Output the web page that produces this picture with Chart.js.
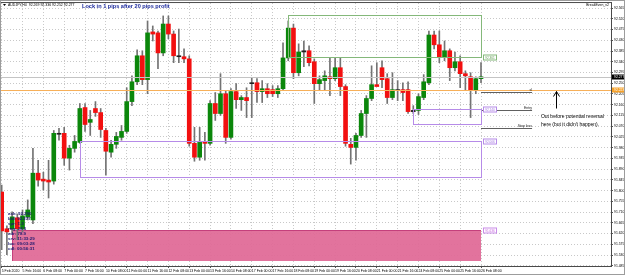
<!DOCTYPE html>
<html>
<head>
<meta charset="utf-8">
<script src="https://cdn.jsdelivr.net/npm/chart.js@4.4.1/dist/chart.umd.min.js"></script>
<style>
html,body{margin:0;padding:0;background:#fff;overflow:hidden}
#wrap{position:relative;width:625px;height:275px}
canvas{display:block}
</style>
</head>
<body>
<div id="wrap"><canvas id="c" width="625" height="275"></canvas></div>
<script>
// ---------- DATA (AUDJPY, H4) ----------
const opens = [91.794,91.640,91.640,91.686,91.640,91.690,91.677,91.873,91.848,91.844,
91.840,92.040,92.040,91.936,91.977,92.002,92.148,92.086,92.144,92.127,
92.052,91.961,91.994,92.023,92.048,92.173,92.256,92.365,92.265,92.465,
92.461,92.377,92.498,92.456,92.365,92.361,92.352,91.998,91.940,92.006,
91.998,92.165,92.123,92.206,92.023,92.215,92.181,92.190,92.252,92.252,
92.215,92.227,92.223,92.206,92.227,92.356,92.481,92.294,92.386,92.386,
92.340,92.248,92.261,92.277,92.269,92.315,92.236,91.994,91.981,92.031,
92.123,92.186,92.244,92.315,92.269,92.190,92.223,92.223,92.223,92.136,
92.136,92.190,92.252,92.452,92.411,92.361,92.386,92.315,92.340,92.290,
92.277,92.219,92.269];
const highs = [91.823,91.652,91.711,91.702,91.719,91.761,91.977,91.927,91.877,91.927,
92.052,92.061,92.065,91.990,92.031,92.165,92.165,92.136,92.173,92.144,
92.061,92.011,92.044,92.073,92.231,92.281,92.390,92.386,92.511,92.490,
92.469,92.532,92.532,92.469,92.477,92.394,92.365,92.065,92.065,92.044,
92.177,92.211,92.290,92.219,92.227,92.248,92.198,92.231,92.273,92.269,
92.261,92.248,92.240,92.240,92.419,92.511,92.498,92.415,92.427,92.407,
92.352,92.281,92.302,92.356,92.356,92.356,92.244,92.019,92.040,92.136,
92.198,92.323,92.336,92.344,92.290,92.294,92.261,92.252,92.256,92.156,
92.206,92.286,92.469,92.469,92.469,92.427,92.394,92.381,92.365,92.302,
92.294,92.277,92.336];
const lows = [91.552,91.531,91.623,91.594,91.627,91.677,91.661,91.819,91.802,91.769,
91.827,92.011,91.906,91.886,91.961,91.998,92.048,92.031,92.111,92.023,
91.865,91.940,91.977,92.011,92.040,92.156,92.244,92.244,92.206,92.427,
92.311,92.365,92.436,92.336,92.336,92.336,91.986,91.923,91.927,91.927,
91.990,92.094,92.115,91.998,92.015,92.144,92.136,92.106,92.106,92.169,
92.169,92.190,92.194,92.190,92.219,92.344,92.269,92.281,92.319,92.323,
92.165,92.219,92.219,92.198,92.261,92.198,91.986,91.911,91.927,92.023,
92.023,92.177,92.240,92.231,92.165,92.181,92.177,92.177,92.123,92.123,
92.119,92.181,92.244,92.394,92.336,92.344,92.261,92.302,92.231,92.223,
92.106,92.206,92.252];
const closes = [91.631,91.627,91.690,91.640,91.694,91.719,91.873,91.844,91.840,91.836,
92.040,92.036,91.936,91.977,92.006,92.144,92.077,92.098,92.127,92.056,
91.965,91.994,92.027,92.048,92.173,92.256,92.365,92.265,92.461,92.456,
92.377,92.498,92.456,92.365,92.361,92.352,91.998,91.940,92.002,91.998,
92.165,92.123,92.206,92.023,92.215,92.181,92.190,92.177,92.248,92.215,
92.227,92.206,92.206,92.227,92.356,92.481,92.294,92.381,92.381,92.336,
92.248,92.265,92.281,92.269,92.315,92.236,91.998,91.981,92.031,92.123,
92.186,92.244,92.236,92.265,92.190,92.223,92.219,92.211,92.131,92.131,
92.194,92.256,92.452,92.411,92.361,92.386,92.315,92.340,92.290,92.281,
92.219,92.269,92.277];

// time axis labels, one every 4 bars
const timeLabels = ["5 Feb 2020","5 Feb 16:00","6 Feb 08:00","7 Feb 00:00","7 Feb 16:00","10 Feb 08:00",
"11 Feb 00:00","11 Feb 16:00","12 Feb 08:00","13 Feb 00:00","13 Feb 16:00","14 Feb 08:00",
"17 Feb 00:00","17 Feb 16:00","18 Feb 08:00","19 Feb 00:00","19 Feb 16:00","20 Feb 08:00",
"21 Feb 00:00","21 Feb 16:00","24 Feb 08:00","25 Feb 00:00","25 Feb 16:00","26 Feb 08:00"];
const labelBars = [0,4,8,12,16,20,24,28,32,36,40,44,48,52,56,60,64,68,72,76,80,84,88,92];

// price axis tick labels
const priceTicks = [92.565,92.520,92.475,92.430,92.385,92.340,92.295,92.250,92.205,92.160,
92.115,92.070,92.025,91.980,91.935,91.890,91.845,91.800,91.755,91.710,91.665,91.620,91.575,91.530,91.485];

// outlined zones (bar index from/to, price high/low) and their price tags
const zoneFrom = [55, 79, 15];
const zoneTo = [92, 92, 92];
const zoneHigh = [92.536, 92.140, 92.006];
const zoneLow = [92.361, 92.077, 91.856];
const zoneTag = [92.361, 92.140, 92.006];

// filled zone
const fillFrom = [2];
const fillTo = [92];
const fillHigh = [91.636];
const fillLow = [91.507];

// levels
const bidPrice = [92.277];
const breakEvenLevel = [92.223];
const slLevel = [92.215];
const entryLevel = [92.136];
const stopLossLevel = [92.061];

const statLines = ["ask: 92.290","bid: 92.277","spr: 1.3","rng: 28.5","adr: 78.9","srv: 11:33:29","loc: 09:03:28","cdl: 00:56:31"];

// ---------- BUILD ----------
const idx = opens.map((_, i) => i);
const wickData = idx.map(i => ({x: i, y: [lows[i], highs[i]]}));
const bodyData = idx.map(i => ({x: i, y: [opens[i], closes[i]]}));
const bodyColors = idx.map(i => Math.abs(closes[i] - opens[i]) < 0.0055 ? '#222222' : (closes[i] > opens[i] ? '#0b870b' : '#f21010'));

const FONT = '"Liberation Sans", Arial, sans-serif';

const annot = {
  id: 'annot',
  beforeDatasetsDraw(chart) {
    const {ctx, scales: {x, y}} = chart;
    ctx.save();
    for (let k = 0; k < fillFrom.length; k++) {
      const X1 = Math.round(x.getPixelForValue(fillFrom[k])), X2 = Math.round(x.getPixelForValue(fillTo[k]));
      const Y1 = Math.round(y.getPixelForValue(fillHigh[k])), Y2 = Math.round(y.getPixelForValue(fillLow[k]));
      ctx.fillStyle = 'rgba(224,108,152,0.95)';
      ctx.fillRect(X1, Y1, X2 - X1, Y2 - Y1);
      ctx.strokeStyle = '#c4407c';
      ctx.lineWidth = 1;
      ctx.beginPath();
      ctx.moveTo(X1 + 0.5, Y2); ctx.lineTo(X1 + 0.5, Y1 + 0.5); ctx.lineTo(X2, Y1 + 0.5);
      ctx.stroke();
    }
    ctx.restore();
  },
  afterDatasetsDraw(chart) {
    const {ctx, chartArea: a, scales: {x, y}} = chart;
    const px = v => x.getPixelForValue(v);
    const py = v => Math.round(y.getPixelForValue(v)) + 0.5;
    ctx.save();
    ctx.lineWidth = 1;

    // bid line & break-even line
    ctx.strokeStyle = '#c4c4c4';
    ctx.beginPath(); ctx.moveTo(a.left, py(bidPrice[0])); ctx.lineTo(a.right, py(bidPrice[0])); ctx.stroke();
    ctx.strokeStyle = '#f7b05a';
    ctx.beginPath(); ctx.moveTo(a.left, py(breakEvenLevel[0])); ctx.lineTo(a.right, py(breakEvenLevel[0])); ctx.stroke();

    // small trade lines to the right of the last bar
    const lx1 = px(92), lx2 = px(101.8);
    ctx.strokeStyle = '#606060';
    [slLevel[0], entryLevel[0], stopLossLevel[0]].forEach(v => {
      ctx.beginPath(); ctx.moveTo(lx1, py(v)); ctx.lineTo(lx2, py(v)); ctx.stroke();
    });
    ctx.fillStyle = '#202020';
    ctx.font = '3.5px ' + FONT;
    ctx.textAlign = 'right'; ctx.textBaseline = 'bottom';
    ctx.fillText('Entry', lx2, py(entryLevel[0]) - 0.5);
    ctx.fillText('Stop loss', lx2, py(stopLossLevel[0]) - 0.5);
    ctx.fillText('sl', lx2, py(slLevel[0]) - 0.5);

    // zone outlines
    const zoneCols = ['#84b87a', '#b68be8', '#b68be8'];
    for (let k = 0; k < zoneFrom.length; k++) {
      const X1 = Math.round(px(zoneFrom[k])) + 0.5, X2 = Math.round(px(zoneTo[k])) + 0.5;
      const Y1 = py(zoneHigh[k]), Y2 = py(zoneLow[k]);
      ctx.strokeStyle = zoneCols[k];
      ctx.strokeRect(X1, Y1, X2 - X1, Y2 - Y1);
    }
    // price tags
    const tagCols = ['#5e9a52', '#a073e0', '#a073e0', '#c867e0'];
    const tagVals = zoneTag.concat(fillHigh);
    const tagBorder = ['#84b87a', '#b68be8', '#b68be8', '#c98be8'];
    ctx.font = '3.2px ' + FONT;
    ctx.textAlign = 'center'; ctx.textBaseline = 'middle';
    tagVals.forEach((v, k) => {
      const bx = Math.round(px(92)) + 2.5, by = py(v);
      ctx.fillStyle = '#ffffff';
      ctx.fillRect(bx, by - 2.5, 13, 5);
      ctx.strokeStyle = tagBorder[k];
      ctx.strokeRect(bx, by - 2.5, 13, 5);
      ctx.fillStyle = tagCols[k];
      ctx.fillText(v.toFixed(3), bx + 6.5, by + 0.2);
    });

    // arrow + note
    const ax = Math.round(px(106.4)) + 0.5;
    const ay1 = py(92.148), ay2 = py(92.219);
    ctx.strokeStyle = '#000'; ctx.lineWidth = 1;
    ctx.beginPath(); ctx.moveTo(ax, ay1); ctx.lineTo(ax, ay2); ctx.stroke();
    ctx.beginPath(); ctx.moveTo(ax - 3, ay2 + 5); ctx.lineTo(ax, ay2); ctx.lineTo(ax + 3, ay2 + 5); ctx.stroke();
    ctx.fillStyle = '#000';
    ctx.font = '5px ' + FONT;
    ctx.textAlign = 'left'; ctx.textBaseline = 'middle';
    ctx.fillText('Out before potential reversal', px(103.5), y.getPixelForValue(92.111));
    ctx.fillText("here (but it didn't happen).", px(103.5), y.getPixelForValue(92.078));

    // chart frame
    ctx.strokeStyle = '#4a4a4a';
    ctx.strokeRect(a.left - 0.5, a.top - 0.5, a.right - a.left + 1, a.bottom - a.top + 1);

    // right-axis price boxes
    const rb = a.right + 1;
    let by = Math.round(y.getPixelForValue(bidPrice[0]));
    ctx.fillStyle = '#000';
    ctx.fillRect(rb, by - 2.5, 13, 5);
    ctx.fillStyle = '#fff';
    ctx.font = '3.4px ' + FONT;
    ctx.textAlign = 'left'; ctx.textBaseline = 'middle';
    ctx.fillText(bidPrice[0].toFixed(3), rb + 2, by);
    by = Math.round(y.getPixelForValue(breakEvenLevel[0]));
    ctx.fillStyle = '#f5a12a';
    ctx.fillRect(rb, by - 2.5, 13, 5);
    ctx.fillStyle = '#fff';
    ctx.fillText(breakEvenLevel[0].toFixed(3), rb + 2, by);

    // header texts
    ctx.fillStyle = '#000';
    ctx.font = '3.5px ' + FONT;
    ctx.textAlign = 'left'; ctx.textBaseline = 'middle';
    ctx.fillText('AUDJPY,H4  92.269 92.336 92.252 92.277', 8, 5);
    ctx.textAlign = 'right';
    ctx.fillText('BreakEven_v2', a.right - 2, 5);
    ctx.beginPath(); ctx.moveTo(3, 4); ctx.lineTo(6, 4); ctx.lineTo(4.5, 6); ctx.closePath(); ctx.fill();

    ctx.fillStyle = '#1c2a9c';
    ctx.font = 'bold 5.6px ' + FONT;
    ctx.textAlign = 'left';
    ctx.fillText('Lock in 1 pips after 20 pips profit', 82, 6);

    // stats block
    ctx.fillStyle = '#1d1a6e';
    ctx.font = 'bold 4.4px ' + FONT;
    statLines.forEach((t, k) => ctx.fillText(t, 8, 213.5 + k * 5.1));

    // outer frame
    ctx.strokeStyle = '#9c9c9c';
    ctx.strokeRect(0.5, 0.5, 624, 274);
    ctx.restore();
  }
};

new Chart(document.getElementById('c'), {
  type: 'bar',
  data: {
    datasets: [
      {data: wickData, backgroundColor: '#737373', barThickness: 1, grouped: false, minBarLength: 1, order: 2},
      {data: bodyData, backgroundColor: bodyColors, barThickness: 4, grouped: false, minBarLength: 1, order: 1}
    ]
  },
  options: {
    responsive: false,
    animation: false,
    devicePixelRatio: 1,
    layout: {padding: {left: 1, top: 2, right: 0, bottom: 0}},
    plugins: {legend: {display: false}, tooltip: {enabled: false}},
    scales: {
      x: {
        type: 'linear', min: -0.13, max: 116.95, offset: false, bounds: 'data',
        afterBuildTicks: s => { s.ticks = labelBars.map(v => ({value: v})); },
        afterFit: s => { s.height = 9; },
        ticks: {autoSkip: false, maxRotation: 0, minRotation: 0, align: 'start', padding: 1,
                font: {size: 3.5, family: FONT}, color: '#000',
                callback: (v, i) => timeLabels[i]},
        grid: {color: '#c8c8c8', offset: false, drawTicks: true, tickLength: 2, tickColor: '#555', lineWidth: 1},
        border: {display: false, dash: [1, 2]}
      },
      y: {
        type: 'linear', position: 'right', min: 91.484, max: 92.586, beginAtZero: false, bounds: 'data',
        afterBuildTicks: s => { s.ticks = priceTicks.map(v => ({value: v})); },
        afterFit: s => { s.width = 14; },
        ticks: {padding: 1, font: {size: 3.4, family: FONT}, color: '#000',
                callback: v => v.toFixed(3)},
        grid: {color: '#c8c8c8', drawTicks: true, tickLength: 2, tickColor: '#555', lineWidth: 1},
        border: {display: false, dash: [1, 2]}
      }
    }
  },
  plugins: [annot]
});
</script>
</body>
</html>
